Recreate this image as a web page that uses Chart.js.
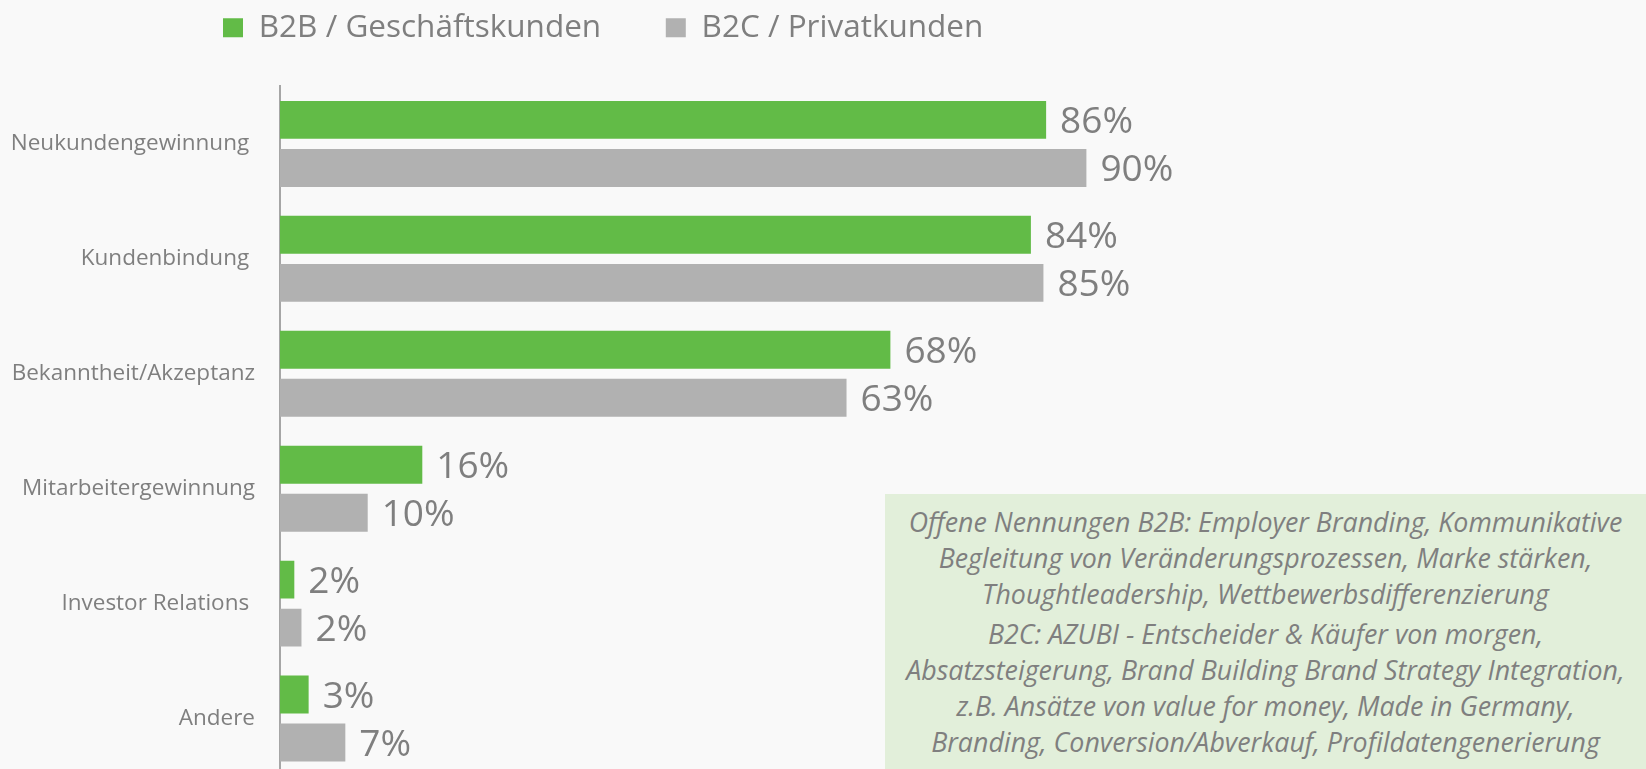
<!DOCTYPE html>
<html>
<head>
<meta charset="utf-8">
<script src="https://cdn.jsdelivr.net/npm/chart.js@4.4.1/dist/chart.umd.min.js"></script>
<style>
html, body { margin: 0; padding: 0; background: #f9f9f9; overflow: hidden; }
#wrap { position: relative; width: 1646px; height: 769px; overflow: hidden; }
#c { position: absolute; left: 0; top: 0; }
#note {
  position: absolute; left: 885px; top: 494px; width: 761px; height: 275px;
  background: #e2efda; color: #7f7f7f; font-family: 'Open Sans', sans-serif;
  font-style: italic; font-size: 26.8px; line-height: 36px; text-align: center;
  box-sizing: border-box; padding-top: 10px; white-space: nowrap;
}
#note p { margin: 0 0 4px 0; }
</style>
</head>
<body>
<div id="wrap">
  <canvas id="c" width="1646" height="776"></canvas>
  <div id="note"></div>
</div>
<script>
const categories = ['Neukundengewinnung ', 'Kundenbindung ', 'Bekanntheit/Akzeptanz', 'Mitarbeitergewinnung', 'Investor Relations ', 'Andere'];
const seriesNames = ['B2B / Geschäftskunden', 'B2C / Privatkunden'];
const b2bValues = [85.6, 83.9, 68.2, 15.9, 1.6, 3.2];
const b2cValues = [90.1, 85.3, 63.3, 9.8, 2.4, 7.3];
const noteB2B = ['Offene Nennungen B2B: Employer Branding, Kommunikative', 'Begleitung von Veränderungsprozessen, Marke stärken,', 'Thoughtleadership, Wettbewerbsdifferenzierung'];
const noteB2C = ['B2C: AZUBI - Entscheider & Käufer von morgen,', 'Absatzsteigerung, Brand Building Brand Strategy Integration,', 'z.B. Ansätze von value for money, Made in Germany,', 'Branding, Conversion/Abverkauf, Profildatengenerierung'];

const note = document.getElementById('note');
[noteB2B, noteB2C].forEach(lines => {
  const p = document.createElement('p');
  lines.forEach((t, i) => {
    if (i) p.appendChild(document.createElement('br'));
    p.appendChild(document.createTextNode(t));
  });
  note.appendChild(p);
});

const valueLabels = {
  id: 'valueLabels',
  afterDatasetsDraw(chart) {
    const ctx = chart.ctx;
    ctx.save();
    ctx.font = '37px "Open Sans"';
    ctx.fillStyle = '#7f7f7f';
    ctx.textAlign = 'left';
    ctx.textBaseline = 'middle';
    chart.data.datasets.forEach((ds, di) => {
      chart.getDatasetMeta(di).data.forEach((bar, i) => {
        ctx.fillText(Math.round(ds.data[i]) + '%', bar.x + 14, bar.y + 3);
      });
    });
    ctx.restore();
  }
};

const legendShift = {
  id: 'legendShift',
  afterLayout(chart) {
    if (chart.legend) chart.legend.left = 158.4;
  }
};

new Chart(document.getElementById('c'), {
  type: 'bar',
  data: {
    labels: categories,
    datasets: [
      { label: seriesNames[0], data: b2bValues, backgroundColor: '#62bb47', borderWidth: 0, categoryPercentage: 0.8355, barPercentage: 0.79 },
      { label: seriesNames[1], data: b2cValues, backgroundColor: '#b1b1b1', borderWidth: 0, categoryPercentage: 0.8355, barPercentage: 0.79 }
    ]
  },
  options: {
    indexAxis: 'y',
    responsive: false,
    animation: false,
    layout: { padding: { top: -52.55, left: 0, right: 471, bottom: 0 } },
    plugins: {
      legend: {
        position: 'top', align: 'start',
        labels: { font: { family: 'Open Sans', size: 31.5 }, color: '#7f7f7f', boxWidth: 20, boxHeight: 19, padding: 64.6 }
      },
      tooltip: { enabled: false }
    },
    scales: {
      x: {
        position: 'top', min: 0, max: 100,
        grid: { display: false, drawTicks: false },
        border: { display: false },
        ticks: { display: false },
        afterFit(s) { s.height = 32.9; s.paddingLeft = 0; s.paddingRight = 0; }
      },
      y: {
        grid: { display: false, drawTicks: false },
        border: { display: true, color: '#a6a6a6', width: 2 },
        ticks: { font: { family: 'Open Sans', size: 22.5 }, color: '#7f7f7f', padding: 25 },
        afterFit(s) { s.width = 280; s.paddingTop = 0; s.paddingBottom = 0; }
      }
    }
  },
  plugins: [valueLabels, legendShift]
});
</script>
</body>
</html>
